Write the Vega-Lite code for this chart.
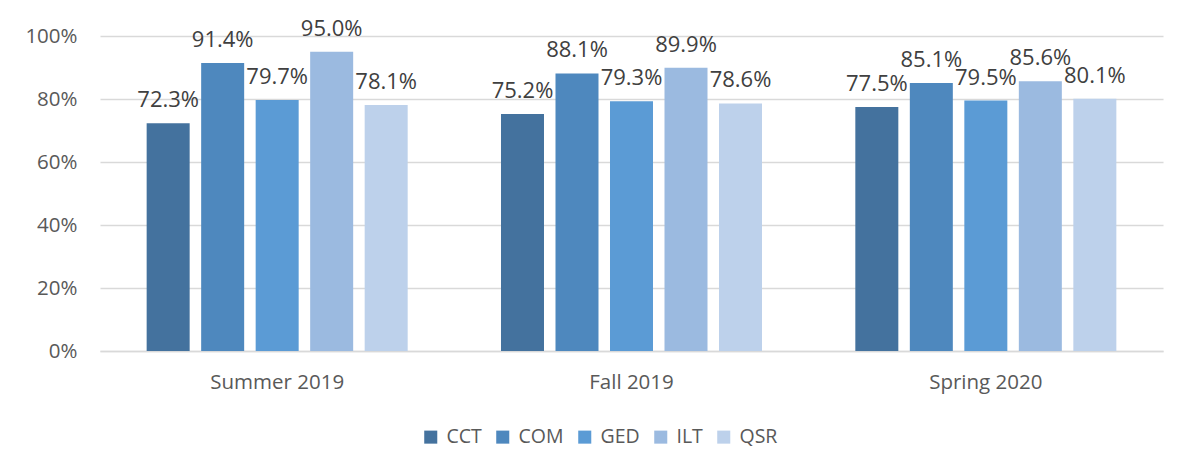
{
  "$schema": "https://vega.github.io/schema/vega-lite/v6.json",
  "width": 1063,
  "height": 315,
  "autosize": {"type": "none"},
  "padding": {"left": 100, "top": 36, "right": 20, "bottom": 115},
  "background": "white",
  "data": {"values": [
    {"term": "Summer 2019", "program": "CCT", "value": 0.723},
    {"term": "Summer 2019", "program": "COM", "value": 0.914},
    {"term": "Summer 2019", "program": "GED", "value": 0.797},
    {"term": "Summer 2019", "program": "ILT", "value": 0.950},
    {"term": "Summer 2019", "program": "QSR", "value": 0.781},
    {"term": "Fall 2019", "program": "CCT", "value": 0.752},
    {"term": "Fall 2019", "program": "COM", "value": 0.881},
    {"term": "Fall 2019", "program": "GED", "value": 0.793},
    {"term": "Fall 2019", "program": "ILT", "value": 0.899},
    {"term": "Fall 2019", "program": "QSR", "value": 0.786},
    {"term": "Spring 2020", "program": "CCT", "value": 0.775},
    {"term": "Spring 2020", "program": "COM", "value": 0.851},
    {"term": "Spring 2020", "program": "GED", "value": 0.795},
    {"term": "Spring 2020", "program": "ILT", "value": 0.856},
    {"term": "Spring 2020", "program": "QSR", "value": 0.801}
  ]},
  "encoding": {
    "x": {"field": "term", "type": "nominal", "sort": ["Summer 2019", "Fall 2019", "Spring 2020"],
      "scale": {"paddingInner": 0, "paddingOuter": 0},
      "axis": {"title": null, "labelAngle": 0, "labelFont": "Open Sans", "labelFontSize": 20.5, "labelColor": "#595959", "labelPadding": 21, "ticks": false, "domainColor": "#d9d9d9", "domainWidth": 1.5, "grid": false}},
    "xOffset": {"field": "program", "type": "nominal", "scale": {"paddingInner": 0.211, "paddingOuter": 0.856}},
    "y": {"field": "value", "type": "quantitative",
      "scale": {"domain": [0, 1]},
      "axis": {"title": null, "format": ".0%", "values": [0, 0.2, 0.4, 0.6, 0.8, 1], "labelOverlap": false, "labelFont": "Open Sans", "labelFontSize": 20.5, "labelColor": "#595959", "labelPadding": 23, "ticks": false, "domain": false, "gridColor": "#d9d9d9", "gridWidth": 1.5}}
  },
  "layer": [
    {
      "mark": {"type": "bar"},
      "encoding": {
        "color": {"field": "program", "type": "nominal",
          "scale": {"domain": ["CCT", "COM", "GED", "ILT", "QSR"], "range": ["#44729E", "#4E88BE", "#5B9BD5", "#9BBAE0", "#BDD1EB"]},
          "legend": {"title": null, "orient": "none", "legendX": 321, "legendY": 391, "direction": "horizontal", "symbolType": "square", "symbolSize": 170, "symbolStrokeWidth": 0, "labelFont": "Open Sans", "labelFontSize": 19.5, "labelColor": "#595959", "labelOffset": 6, "columnPadding": 11}}
      }
    },
    {
      "mark": {"type": "text", "baseline": "alphabetic", "dy": -16, "font": "Open Sans", "fontSize": 22, "color": "#404040"},
      "encoding": {"text": {"field": "value", "type": "quantitative", "format": ".1%"}}
    }
  ],
  "config": {"view": {"stroke": null}}
}
